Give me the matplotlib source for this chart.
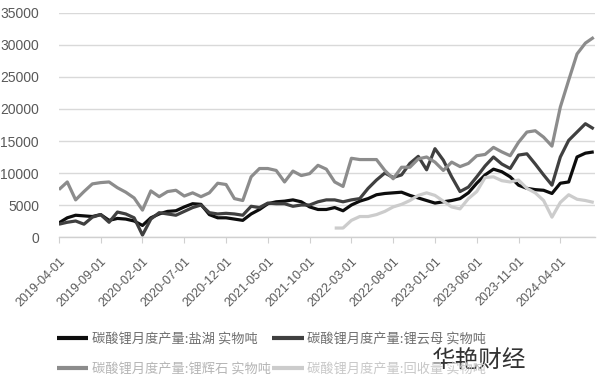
import matplotlib
matplotlib.use("Agg")
import matplotlib.pyplot as plt
import numpy as np
import pandas as pd

plt.rcParams['font.family'] = ['Liberation Sans', 'Noto Sans CJK SC', 'DejaVu Sans']

months = pd.date_range('2019-04-01', periods=65, freq='MS').strftime('%Y-%m-%d').tolist()

salt_lake = [2200, 3000, 3400, 3300, 3200, 3500, 2600, 2900, 2800, 2500,
             1800, 3000, 3600, 4000, 4100, 4700, 5200, 5100, 3500, 3000,
             3000, 2800, 2600, 3600, 4300, 5200, 5500, 5600, 5800, 5500,
             4700, 4300, 4300, 4600, 4100, 5000, 5600, 6000, 6600, 6800,
             6900, 7000, 6500, 6100, 5700, 5300, 5500, 5700, 6000, 6900,
             8400, 9700, 10600, 10200, 9400, 8100, 7600, 7400, 7300, 6800,
             8400, 8600, 12500, 13100, 13300]

lepidolite = [2000, 2300, 2500, 2000, 3100, 3500, 2300, 3900, 3600, 3000,
              300, 2800, 3800, 3600, 3400, 4000, 4600, 5000, 3800, 3600,
              3700, 3600, 3400, 4800, 4600, 5300, 5200, 5200, 4800, 5000,
              5000, 5500, 5800, 5800, 5500, 5800, 6000, 7600, 8900, 10000,
              9300, 9700, 11500, 12600, 10500, 13800, 12000, 9400, 7100, 7800,
              9400, 11100, 12500, 11400, 10700, 12800, 13000, 11400, 9700, 8100,
              12500, 15100, 16400, 17700, 16900]

spodumene = [7400, 8600, 5800, 7100, 8300, 8500, 8600, 7700, 7000, 6100,
             4200, 7200, 6300, 7100, 7300, 6400, 6900, 6300, 6900, 8400,
             8200, 6000, 5700, 9400, 10700, 10700, 10400, 8600, 10300, 9600,
             9900, 11200, 10600, 8600, 7900, 12300, 12100, 12100, 12100, 10400,
             9100, 10900, 10900, 12200, 12500, 11700, 10400, 11700, 11000, 11500,
             12700, 12900, 14000, 13300, 12700, 14800, 16400, 16600, 15600, 14200,
             20300, 24500, 28600, 30300, 31200]

recycled = [np.nan] * 33 + [1400, 1400, 2600, 3200, 3200, 3500, 4000,
             4700, 5100, 5700, 6500, 6900, 6500, 5600, 4700, 4400, 6000,
             7100, 9300, 9400, 8800, 8600, 8900, 7600, 6900, 5700, 3100,
             5400, 6600, 5900, 5700, 5400]

labels = ['碳酸锂月度产量:盐湖 实物吨', '碳酸锂月度产量:锂云母 实物吨',
          '碳酸锂月度产量:锂辉石 实物吨', '碳酸锂月度产量:回收量 实物吨']
series = [salt_lake, lepidolite, spodumene, recycled]
colors = ['#0d0d0d', '#404040', '#8c8c8c', '#cccccc']
yticks = [0, 5000, 10000, 15000, 20000, 25000, 30000, 35000]

fig = plt.figure(figsize=(6.0, 3.79), dpi=100)
ax = fig.add_axes([58.5/600, 1-237/379, (595-58.5)/600, (237-13)/379])

x = np.arange(len(months))
handles = []
for vals, c, lab in zip(series, colors, labels):
    h, = ax.plot(x, np.array(vals, dtype=float), color=c, lw=2.3, label=lab,
                 solid_joinstyle='round', solid_capstyle='butt')
    handles.append(h)

ax.set_xlim(0 - 0.05, len(months) - 1 + 0.15)
ax.set_ylim(0, 35000)
ax.set_yticks(yticks)
ax.set_yticklabels([str(v) for v in yticks], fontsize=10, color='#595959')
ax.tick_params(axis='y', length=0, pad=14)
ax.grid(axis='y', color='#d9d9d9', lw=1)
ax.set_axisbelow(True)
for s in ['top', 'right', 'left']:
    ax.spines[s].set_visible(False)
ax.spines['bottom'].set_color('#d0d0d0')
ax.spines['bottom'].set_linewidth(1)

tick_pos = x[::5]
ax.set_xticks(tick_pos)
ax.set_xticklabels([months[i] for i in tick_pos], rotation=45, ha='right',
                   rotation_mode='anchor', fontsize=9, color='#595959')
ax.tick_params(axis='x', length=4, color='#d0d0d0', pad=9)

order = [0, 2, 1, 3]
leg = fig.legend([handles[i] for i in order], [labels[i] for i in order],
                 ncol=2, loc='upper left', bbox_to_anchor=(50/600, 1-326/379),
                 frameon=False, handlelength=2.4, handletextpad=0.25,
                 columnspacing=0.1, labelspacing=1.3, borderpad=0,
                 prop={'family': ['Noto Sans CJK SC', 'DejaVu Sans'], 'size': 9.5})
text_colors = ['#6f6f6f', '#b5b5b5', '#6f6f6f', '#c8c8c8']
for t, c in zip(leg.get_texts(), text_colors):
    t.set_color(c)
for lh in leg.get_lines():
    lh.set_linewidth(3)

fig.text(432/600, 1-360/379, '华艳财经', fontsize=17, color='#333333',
         family=['Noto Sans CJK SC', 'DejaVu Sans'], ha='left', va='center',
         bbox=dict(facecolor='white', edgecolor='none', alpha=0.85, pad=1))

fig.savefig('out.png', dpi=100)
